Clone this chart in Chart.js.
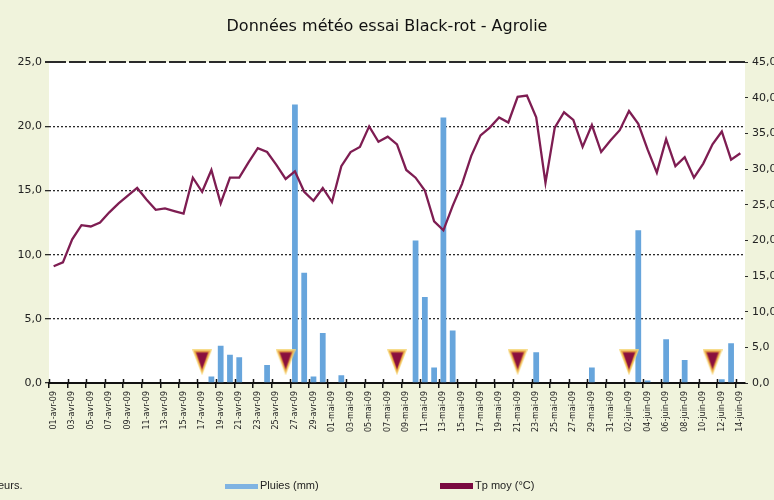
<!DOCTYPE html>
<html>
<head>
<meta charset="utf-8">
<script src="https://cdn.jsdelivr.net/npm/chart.js@4.4.1/dist/chart.umd.min.js"></script>
<style>
  html, body { margin: 0; padding: 0; background: #f0f3dc; }
  #wrap { position: relative; width: 774px; height: 500px; overflow: hidden; background: #f0f3dc; }
  canvas { position: absolute; left: 0; top: 0; }
  .note { position: absolute; left: -2px; top: 479px; font: 11px "Liberation Sans", Arial, sans-serif; color: #222; }
  .leg { position: absolute; top: 479px; font: 11px "Liberation Sans", Arial, sans-serif; color: #222; white-space: nowrap; }
  .leg span.sw { display: inline-block; width: 33px; vertical-align: middle; margin-right: 2px; }
</style>
</head>
<body>
<div id="wrap">
  <canvas id="c" width="774" height="500"></canvas>
  <div class="note">eurs.</div>
  <div id="legend"></div>
</div>
<script>
const categories = [
  '01-avr-09','02-avr-09','03-avr-09','04-avr-09','05-avr-09','06-avr-09','07-avr-09','08-avr-09','09-avr-09','10-avr-09',
  '11-avr-09','12-avr-09','13-avr-09','14-avr-09','15-avr-09','16-avr-09','17-avr-09','18-avr-09','19-avr-09','20-avr-09',
  '21-avr-09','22-avr-09','23-avr-09','24-avr-09','25-avr-09','26-avr-09','27-avr-09','28-avr-09','29-avr-09','30-avr-09',
  '01-mai-09','02-mai-09','03-mai-09','04-mai-09','05-mai-09','06-mai-09','07-mai-09','08-mai-09','09-mai-09','10-mai-09',
  '11-mai-09','12-mai-09','13-mai-09','14-mai-09','15-mai-09','16-mai-09','17-mai-09','18-mai-09','19-mai-09','20-mai-09',
  '21-mai-09','22-mai-09','23-mai-09','24-mai-09','25-mai-09','26-mai-09','27-mai-09','28-mai-09','29-mai-09','30-mai-09',
  '31-mai-09','01-juin-09','02-juin-09','03-juin-09','04-juin-09','05-juin-09','06-juin-09','07-juin-09','08-juin-09','09-juin-09',
  '10-juin-09','11-juin-09','12-juin-09','13-juin-09','14-juin-09'
];

const rainMm = [
  0,0,0,0,0,0,0,0,0,0,
  0,0,0,0,0,0,0,0.5,2.9,2.2,
  2.0,0,0,1.4,0,0,21.7,8.6,0.5,3.9,
  0,0.6,0,0,0,0,0,0,0,11.1,
  6.7,1.2,20.7,4.1,0,0,0,0,0,0,
  0,0,2.4,0,0,0,0,0,1.2,0,
  0,0,0,11.9,0.2,0,3.4,0,1.8,0,
  0,0,0.3,3.1,0
];

const tempMoy = [
  9.1,9.4,11.2,12.3,12.2,12.5,13.3,14.0,14.6,15.2,
  14.3,13.5,13.6,13.4,13.2,16.0,14.9,16.6,14.0,16.0,
  16.0,17.2,18.3,18.0,17.0,15.9,16.5,14.9,14.2,15.2,
  14.1,16.9,18.0,18.4,20.0,18.8,19.2,18.6,16.6,16.0,
  15.0,12.6,11.9,13.8,15.5,17.7,19.3,19.9,20.7,20.3,
  22.3,22.4,20.7,15.6,19.9,21.1,20.5,18.4,20.1,18.0,
  18.9,19.7,21.2,20.2,18.2,16.4,19.0,16.9,17.6,16.0,
  17.1,18.6,19.6,17.4,17.9
];

const treatmentDays = ['17-avr-09','26-avr-09','08-mai-09','21-mai-09','02-juin-09','11-juin-09'];
const treatmentLevel = 1.6;

const leftTicks = [0, 5, 10, 15, 20, 25];
const rightTicks = [0, 5, 10, 15, 20, 25, 30, 35, 40, 45];

const treatmentData = categories.map(c => treatmentDays.includes(c) ? treatmentLevel : null);

const fmt = v => Number(v).toFixed(1).replace('.', ',');

// marker image for the treatment points (inverted triangle with a yellow halo)
function makeTriangleMarker() {
  const cv = document.createElement('canvas');
  cv.width = 20; cv.height = 26;
  const c = cv.getContext('2d');
  const tri = (inset, color) => {
    c.beginPath();
    c.moveTo(inset * 1.0, inset * 0.7);
    c.lineTo(20 - inset * 1.0, inset * 0.7);
    c.lineTo(10, 26 - inset * 1.6);
    c.closePath();
    c.fillStyle = color;
    c.fill();
  };
  tri(0, 'rgba(246,214,120,0.85)');
  tri(1.6, '#eeb04a');
  tri(3.4, '#b0423c');
  tri(4.6, '#8a0f3e');
  return cv;
}
const triMarker = makeTriangleMarker();

const bgPlugin = {
  id: 'plotBg',
  beforeDraw(chart) {
    const { ctx, chartArea: a } = chart;
    ctx.save();
    ctx.fillStyle = '#ffffff';
    ctx.fillRect(a.left, a.top, a.right - a.left, a.bottom - a.top);
    ctx.restore();
  }
};

const crossTicks = {
  id: 'crossTicks',
  afterDraw(chart) {
    const { ctx, chartArea: a } = chart;
    const xs = chart.scales.x;
    ctx.save();
    ctx.strokeStyle = '#111';
    ctx.lineWidth = 1.5;
    for (let i = 0; i <= categories.length; i += 2) {
      const px = Math.round(xs.getPixelForValue(i - 0.5)) + 0.5;
      ctx.beginPath();
      ctx.moveTo(px, a.bottom - 4);
      ctx.lineTo(px, a.bottom);
      ctx.stroke();
    }
    ctx.restore();
  }
};

const chart = new Chart(document.getElementById('c'), {
  data: {
    labels: categories,
    datasets: [
      {
        type: 'line',
        label: 'Traitements',
        data: treatmentData,
        showLine: false,
        pointStyle: triMarker,
        pointRadius: 10,
        yAxisID: 'y',
        order: 0
      },
      {
        type: 'line',
        label: 'Tp moy (°C)',
        data: tempMoy,
        borderColor: '#7e1d52',
        backgroundColor: '#7a0a40',
        borderWidth: 2.3,
        pointRadius: 0,
        tension: 0,
        yAxisID: 'y',
        order: 1
      },
      {
        type: 'bar',
        label: 'Pluies (mm)',
        data: rainMm,
        backgroundColor: '#67a5dc',
        borderWidth: 0,
        barPercentage: 0.62,
        categoryPercentage: 1,
        yAxisID: 'y',
        order: 2
      }
    ]
  },
  options: {
    responsive: false,
    animation: false,
    layout: { padding: 0 },
    plugins: {
      legend: { display: false },
      tooltip: { enabled: false },
      title: {
        display: true,
        text: 'Données météo essai Black-rot - Agrolie',
        color: '#111',
        font: { family: '"DejaVu Sans", sans-serif', size: 16, weight: 'normal' },
        padding: { top: 17, bottom: 26 }
      }
    },
    scales: {
      x: {
        type: 'category',
        offset: true,
        afterFit(s) { s.height = 117; },
        grid: {
          offset: true,
          drawOnChartArea: false,
          drawTicks: true,
          tickLength: 5,
          lineWidth: 1.5,
          color: ctx => (ctx.index % 2 === 0 ? '#111' : 'rgba(0,0,0,0)'),
          tickColor: ctx => (ctx.index % 2 === 0 ? '#111' : 'rgba(0,0,0,0)')
        },
        border: { display: true, color: '#111', width: 2 },
        ticks: {
          autoSkip: false,
          maxRotation: 90,
          minRotation: 90,
          padding: 3,
          color: '#222',
          font: { family: '"DejaVu Sans", sans-serif', size: 8 },
          callback: (v, i) => (i % 2 === 0 ? categories[i] : '')
        }
      },
      y: {
        position: 'left',
        min: 0,
        max: 25,
        afterFit(s) { s.width = 49; },
        afterBuildTicks(s) { s.ticks = leftTicks.map(v => ({ value: v })); },
        ticks: {
          color: '#222',
          padding: 3,
          font: { family: '"DejaVu Sans", sans-serif', size: 11 },
          callback: v => fmt(v)
        },
        grid: {
          color: '#2a2a2a',
          lineWidth: ctx => (ctx.tick && ctx.tick.value === 25 ? 2 : 1.3),
          drawTicks: true,
          tickLength: 4,
          tickColor: '#2a2a2a'
        },
        border: {
          display: false,
          dash: ctx => (ctx.tick && ctx.tick.value === 25 ? [17, 3] : [2, 2])
        }
      },
      y1: {
        position: 'right',
        min: 0,
        max: 45,
        afterFit(s) { s.width = 29; },
        afterBuildTicks(s) { s.ticks = rightTicks.map(v => ({ value: v })); },
        ticks: {
          color: '#222',
          padding: 4,
          font: { family: '"DejaVu Sans", sans-serif', size: 11 },
          callback: v => fmt(v)
        },
        grid: { drawOnChartArea: false, drawTicks: true, tickLength: 3, tickColor: '#2a2a2a' },
        border: { display: false }
      }
    }
  },
  plugins: [bgPlugin, crossTicks]
});

// HTML legend built from the chart datasets (two series only)
const legendEl = document.getElementById('legend');
const legendPos = { 'Pluies (mm)': 225, 'Tp moy (°C)': 440 };
chart.data.datasets.forEach(ds => {
  if (!(ds.label in legendPos)) return;
  const d = document.createElement('div');
  d.className = 'leg';
  d.style.left = legendPos[ds.label] + 'px';
  const sw = document.createElement('span');
  sw.className = 'sw';
  sw.style.height = ds.type === 'bar' ? '5px' : '6px';
  sw.style.background = ds.type === 'bar' ? '#7fb3e2' : ds.backgroundColor;
  d.appendChild(sw);
  d.appendChild(document.createTextNode(ds.label));
  legendEl.appendChild(d);
});
</script>
</body>
</html>
